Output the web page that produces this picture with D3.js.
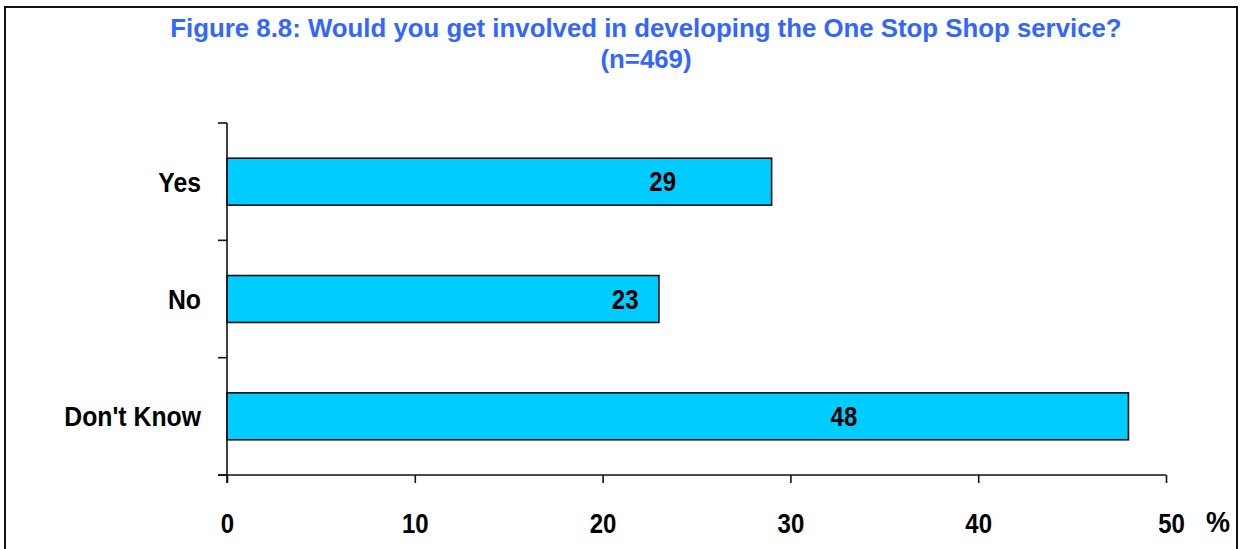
<!DOCTYPE html>
<html>
<head>
<meta charset="utf-8">
<script src="https://cdn.jsdelivr.net/npm/d3@7/dist/d3.min.js"></script>
<style>
  html, body { margin: 0; padding: 0; background: #fff; }
  svg { display: block; font-family: "Liberation Sans", Arial, sans-serif; }
</style>
</head>
<body>
<svg id="chart" width="1243" height="549"></svg>
<script>
// Survey answers and their shares (%)
const categories = ["Yes", "No", "Don't Know"];
const values = [29, 23, 48];
const xTicks = [0, 10, 20, 30, 40, 50];
const titleLines = [
  "Figure 8.8: Would you get involved in developing the One Stop Shop service?",
  "(n=469)"
];
const unitLabel = "%";

// Where each value label sits along its bar (axis units)
const valueLabelAt = { "Yes": 23.2, "No": 21.2, "Don't Know": 32.85 };

const svg = d3.select("#chart");
const H = 549;

// Bold labels are drawn slightly taller than wide
const LABEL_SIZE = 24, LABEL_STRETCH = 1.12;
function tallText(sel, px, py) {
  return sel
    .attr("x", 0).attr("y", 0)
    .attr("transform", (d, i) => `translate(${px(d, i)},${py(d, i)}) scale(1,${LABEL_STRETCH})`)
    .attr("font-size", LABEL_SIZE)
    .attr("font-weight", "bold")
    .attr("fill", "#000");
}

// Frame
svg.append("rect")
  .attr("x", 5).attr("y", 7)
  .attr("width", 1232).attr("height", H)
  .attr("fill", "#fff")
  .attr("stroke", "#111").attr("stroke-width", 2);

// Title
const title = svg.append("text")
  .attr("text-anchor", "middle")
  .attr("fill", "#3366FF")
  .attr("font-weight", "bold")
  .attr("font-size", 25.8);
titleLines.forEach((t, i) => {
  title.append("tspan").attr("x", 646).attr("y", 37 + i * 31).text(t);
});

const plot = { left: 227, right: 1166, top: 123, bottom: 475 };

const x = d3.scaleLinear().domain([0, 50]).range([plot.left, plot.right]);
const y = d3.scaleBand().domain(categories).range([plot.top, plot.bottom]).paddingInner(0.6).paddingOuter(0.3);
const yEdges = d3.scaleLinear().domain([0, categories.length]).range([plot.top, plot.bottom]);

// Bars
svg.append("g").selectAll("rect")
  .data(categories)
  .join("rect")
  .attr("x", x(0))
  .attr("y", d => y(d))
  .attr("width", (d, i) => x(values[i]) - x(0))
  .attr("height", y.bandwidth())
  .attr("fill", "#00CCFF")
  .attr("stroke", "#111")
  .attr("stroke-width", 1.6);

// Value labels
svg.append("g").selectAll("text")
  .data(categories)
  .join("text")
  .attr("text-anchor", "middle")
  .call(tallText, d => x(valueLabelAt[d]), d => y(d) + y.bandwidth() / 2 + 9.5)
  .text((d, i) => values[i]);

// X axis
const xAxis = svg.append("g")
  .attr("transform", `translate(0,${plot.bottom})`)
  .call(d3.axisBottom(x).tickValues(xTicks).tickSize(8).tickSizeOuter(0));
xAxis.select(".domain").attr("d", `M${plot.left - 9},0H${plot.right}`).attr("stroke", "#111").attr("stroke-width", 1.6);
xAxis.selectAll(".tick line").attr("stroke", "#111").attr("stroke-width", 1.6);
xAxis.selectAll(".tick text").remove();
xAxis.selectAll(".tick").append("text")
  .attr("text-anchor", "middle")
  .attr("font-family", "Liberation Sans, Arial, sans-serif")
  .call(tallText, d => (d === 50 ? 5 : 0), () => 58)
  .text(d => d);

// Y axis: line plus boundary ticks between categories
const yAxis = svg.append("g");
yAxis.append("line")
  .attr("x1", plot.left).attr("x2", plot.left)
  .attr("y1", plot.top).attr("y2", plot.bottom + 8)
  .attr("stroke", "#111").attr("stroke-width", 1.6);
yAxis.selectAll("line.tick")
  .data(d3.range(categories.length + 1))
  .join("line")
  .attr("class", "tick")
  .attr("x1", plot.left - 9).attr("x2", plot.left)
  .attr("y1", d => yEdges(d)).attr("y2", d => yEdges(d))
  .attr("stroke", "#111").attr("stroke-width", 1.6);
yAxis.selectAll("text")
  .data(categories)
  .join("text")
  .attr("text-anchor", "end")
  .call(tallText, () => 201, d => y(d) + y.bandwidth() / 2 + 10)
  .attr("font-size", 24.8)
  .text(d => d);

// Unit label
svg.append("text")
  .attr("text-anchor", "middle")
  .call(tallText, () => 1218, () => 532)
  .attr("font-size", 27)
  .text(unitLabel);
</script>
</body>
</html>
